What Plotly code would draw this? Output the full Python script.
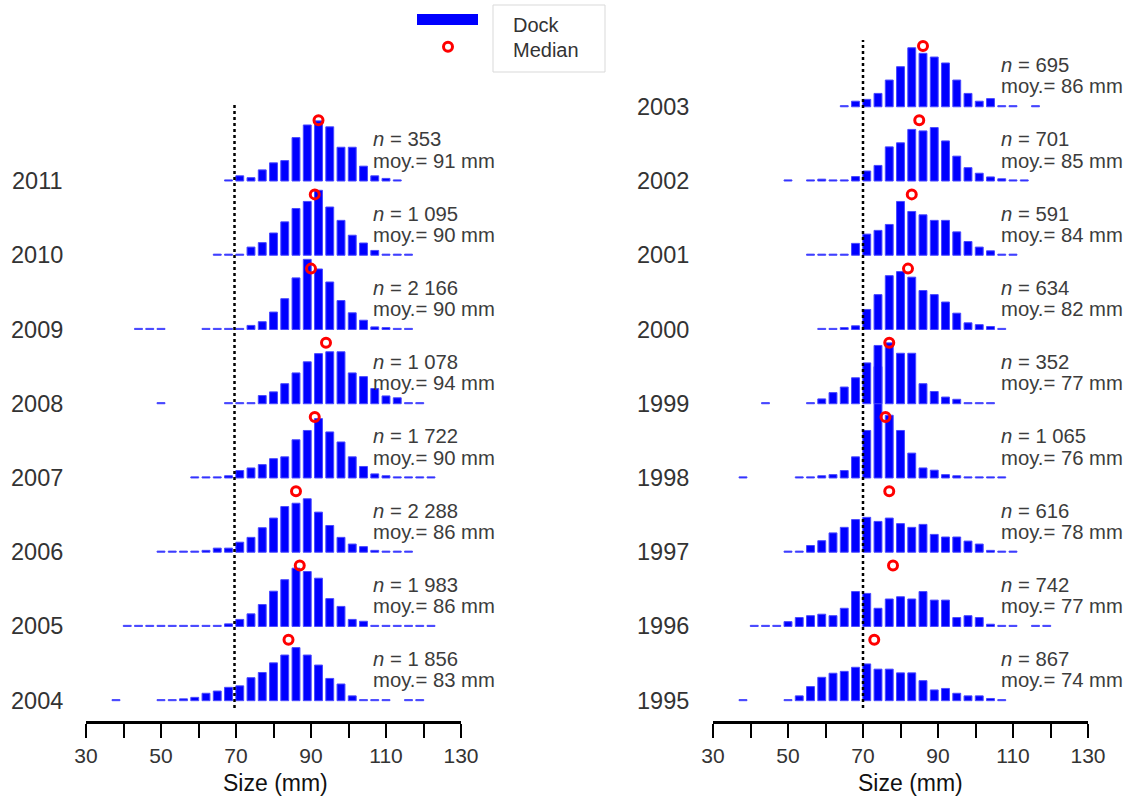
import plotly.graph_objects as go

# Size classes (mm), 3 mm wide, identified by their centre
BINS = list(range(35, 132, 3))

# Percentage of the dock sample in each size class
F2011 = [0,0,0,0,0,0,0,0,0,0,0,0.3,1.4,0.9,3.0,4.9,5.5,11.7,15.1,16.2,14.6,9.1,9.1,4.0,1.4,0.7,0.3,0,0,0,0,0,0]
F2010 = [0,0,0,0,0,0,0,0,0,0,0.3,0.3,0.3,2.2,3.4,6.0,9.0,12.6,14.5,17.5,13.0,9.4,5.4,3.3,1.3,0.3,0.3,0.3,0,0,0,0,0]
F2009 = [0,0,0,0.3,0.3,0.3,0,0,0,0.3,0.3,0.3,0.3,1.1,2.1,4.7,8.3,13.9,18.9,16.3,12.8,7.8,4.5,2.5,0.7,0.5,0.3,0.3,0,0,0,0,0]
F2008 = [0,0,0,0,0,0.3,0,0,0,0,0,0.3,0.3,0.3,2.2,3.2,5.4,8.3,11.3,13.5,14.0,14.0,8.3,7.3,4.1,2.1,1.6,0.3,0.3,0,0,0,0]
F2007 = [0,0,0,0,0,0,0,0,0.3,0.3,0.3,0.6,2.0,2.7,3.6,5.2,5.7,10.3,12.8,16.0,12.4,9.7,5.7,3.1,1.1,0.6,0.3,0.3,0.3,0.3,0,0,0]
F2006 = [0,0,0,0,0,0.3,0.3,0.3,0.3,0.5,1.1,1.1,2.7,4.0,6.6,9.2,12.3,13.2,14.4,10.8,7.2,4.0,2.2,1.5,0.5,0.3,0.3,0.3,0,0,0,0,0]
F2005 = [0,0,0.3,0.3,0.3,0.3,0.3,0.3,0.3,0.3,0.3,0.7,1.9,3.4,5.9,9.5,12.6,15.7,14.8,13.0,7.5,5.4,1.9,1.4,0.3,0.3,0.3,0.3,0.3,0.3,0,0,0]
F2004 = [0,0.3,0,0,0,0.3,0.3,0.5,0.9,2.0,2.6,3.6,4.0,6.2,7.6,10.2,12.3,14.3,12.3,9.6,6.0,4.5,1.3,0.3,0.3,0.3,0,0.3,0.3,0,0,0,0]

F2003 = [0,0,0,0,0,0,0,0,0,0,0.3,1.5,2.0,3.6,7.2,10.8,15.9,14.4,13.4,11.8,7.2,3.6,1.5,2.2,0.3,0.3,0,0.3,0,0,0,0,0]
F2002 = [0,0,0,0,0,0.3,0,0.3,0.5,0.3,0.3,1.2,2.7,4.2,9.2,10.3,13.9,13.5,14.4,10.8,6.7,3.6,2.1,1.1,0.6,0.3,0.3,0,0,0,0,0,0]
F2001 = [0,0,0,0,0,0,0,0.3,0.3,0.3,0.3,3.2,5.7,6.7,8.3,14.5,11.8,10.9,9.4,9.4,6.3,3.7,2.2,1.2,0.3,0.3,0,0,0,0,0,0,0]
F2000 = [0,0,0,0,0,0,0,0,0.3,0.3,0.5,1.0,5.4,9.4,14.5,15.6,14.1,10.5,9.4,7.4,4.4,1.8,1.3,0.8,0.3,0,0,0,0,0,0,0,0]
F1999 = [0,0,0,0.3,0,0,0,0.3,1.3,3.0,4.5,7.0,11.0,15.7,16.4,13.6,13.6,5.4,3.3,1.8,1.2,0.3,0.3,0.3,0,0,0,0,0,0,0,0,0]
F1998 = [0,0.3,0,0,0,0,0.3,0.3,0.6,0.9,2.0,5.7,12.8,30.0,16.9,12.8,6.7,2.7,2.1,0.9,0.6,0.3,0.3,0.3,0.3,0,0,0,0,0,0,0,0]
F1997 = [0,0,0,0,0,0.3,0.3,1.8,3.1,5.2,6.7,8.8,9.4,8.3,9.2,7.7,6.7,7.5,4.8,4.1,4.1,3.0,2.2,0.5,0.3,0.3,0,0,0,0,0,0,0]
F1996 = [0,0,0.3,0.3,0.3,1.3,2.4,2.9,3.3,2.9,4.9,9.4,8.9,4.9,7.4,8.0,7.4,9.4,7.1,7.1,2.4,2.9,2.4,0.6,0.3,0.3,0,0.3,0.3,0,0,0,0]
F1995 = [0,0.3,0,0,0,0.3,1.3,3.8,6.3,7.4,7.9,9.0,9.9,8.5,8.5,7.5,7.5,5.4,2.9,3.3,2.0,1.3,1.3,0.6,0.3,0,0,0,0,0,0,0,0]

LEFT_YEARS = [2004, 2005, 2006, 2007, 2008, 2009, 2010, 2011]
LEFT_FREQ = [F2004, F2005, F2006, F2007, F2008, F2009, F2010, F2011]
LEFT_N = [1856, 1983, 2288, 1722, 1078, 2166, 1095, 353]
LEFT_MEAN = [83, 86, 86, 90, 94, 90, 90, 91]
LEFT_MEDIAN = [84, 87, 86, 91, 94, 90, 91, 92]

RIGHT_YEARS = [1995, 1996, 1997, 1998, 1999, 2000, 2001, 2002, 2003]
RIGHT_FREQ = [F1995, F1996, F1997, F1998, F1999, F2000, F2001, F2002, F2003]
RIGHT_N = [867, 742, 616, 1065, 352, 634, 591, 701, 695]
RIGHT_MEAN = [74, 77, 78, 76, 77, 82, 84, 85, 86]
RIGHT_MEDIAN = [73, 78, 77, 76, 77, 82, 83, 85, 86]

X_TICKS = list(range(30, 131, 10))
X_TICKTEXT = [str(v) if v % 20 == 10 else "" for v in X_TICKS]
LEGAL_SIZE = 70

W, H = 1133, 801
STEP = 20.0          # vertical offset between successive years (in % units)
MEDIAN_LEVEL = 16.4  # height of the median symbol above each baseline
FONT = "Liberation Sans, Arial, sans-serif"
BLUE = "#0000ff"


def px_x(x):
    return x / W


def px_y(y):
    return 1 - y / H


fig = go.Figure()
annotations = []
shapes = []

panels = [
    dict(years=LEFT_YEARS, freq=LEFT_FREQ, n=LEFT_N, mean=LEFT_MEAN, med=LEFT_MEDIAN,
         xa="x", ya="y", label_x=65, text_x=371, title_x=275,
         vline_x=LEGAL_SIZE - 0.4, vline_top=160.5),
    dict(years=RIGHT_YEARS, freq=RIGHT_FREQ, n=RIGHT_N, mean=RIGHT_MEAN, med=RIGHT_MEDIAN,
         xa="x2", ya="y2", label_x=691, text_x=999, title_x=910,
         vline_x=LEGAL_SIZE, vline_top=178.0),
]

for p in panels:
    for i, year in enumerate(p["years"]):
        base = STEP * i
        xs = [b for b, v in zip(BINS, p["freq"][i]) if v > 0]
        ys = [v for v in p["freq"][i] if v > 0]
        fig.add_trace(go.Bar(
            x=xs, y=ys, base=base, width=2.1,
            marker=dict(color=BLUE, line=dict(color="#4a4aff", width=1)),
            xaxis=p["xa"], yaxis=p["ya"], hoverinfo="skip",
        ))
        annotations.append(dict(
            text=str(year), xref="paper", x=px_x(p["label_x"]), xanchor="right",
            yref=p["ya"], y=base, yanchor="middle", showarrow=False,
            font=dict(family=FONT, size=23.5, color="#333333"),
        ))
        n_txt = f"{p['n'][i]:,}".replace(",", " ")
        annotations.append(dict(
            text=f"<i>n</i> = {n_txt}", xref="paper", x=px_x(p["text_x"]), xanchor="left",
            yref=p["ya"], y=base + 11.2, yanchor="middle", showarrow=False,
            font=dict(family=FONT, size=20.3, color="#3c3c3c"),
        ))
        annotations.append(dict(
            text=f"moy.= {p['mean'][i]} mm", xref="paper", x=px_x(p["text_x"]), xanchor="left",
            yref=p["ya"], y=base + 5.5, yanchor="middle", showarrow=False,
            font=dict(family=FONT, size=20.3, color="#3c3c3c"),
        ))

    fig.add_trace(go.Scatter(
        x=p["med"], y=[STEP * i + MEDIAN_LEVEL for i in range(len(p["years"]))],
        mode="markers", xaxis=p["xa"], yaxis=p["ya"], hoverinfo="skip",
        marker=dict(symbol="circle-open", size=9, color="#ff0000",
                    line=dict(width=3, color="#ff0000")),
    ))

    shapes.append(dict(
        type="line", xref=p["xa"], yref=p["ya"],
        x0=p["vline_x"], x1=p["vline_x"], y0=-2.0, y1=p["vline_top"],
        line=dict(color="#000000", width=2.5, dash="dot"), layer="above",
    ))

    annotations.append(dict(
        text="Size (mm)", xref="paper", x=px_x(p["title_x"]), xanchor="center",
        yref="paper", y=px_y(783), yanchor="middle", showarrow=False,
        font=dict(family=FONT, size=23, color="#111111"),
    ))

# Legend: bar swatch, median symbol and a framed label box
shapes.append(dict(type="rect", xref="paper", yref="paper",
                   x0=px_x(417), x1=px_x(478), y0=px_y(25), y1=px_y(14),
                   fillcolor=BLUE, line=dict(width=0)))
shapes.append(dict(type="circle", xref="paper", yref="paper",
                   x0=px_x(443.5), x1=px_x(452.5), y0=px_y(51.2), y1=px_y(42.2),
                   line=dict(color="#ff0000", width=3)))
shapes.append(dict(type="rect", xref="paper", yref="paper",
                   x0=px_x(493), x1=px_x(605), y0=px_y(72), y1=px_y(5),
                   line=dict(color="#d9d9d9", width=1)))
for label, yy in [("Dock", 25), ("Median", 50)]:
    annotations.append(dict(
        text=label, xref="paper", x=px_x(511), xanchor="left",
        yref="paper", y=px_y(yy), yanchor="middle", showarrow=False,
        font=dict(family=FONT, size=20, color="#333333"),
    ))

y_lo = -(721 - 700.7) / (74.24 / STEP)
y_hi = 700.7 / (74.24 / STEP)

axis_common = dict(
    range=[30, 130], tickmode="array", tickvals=X_TICKS, ticktext=X_TICKTEXT,
    ticks="outside", ticklen=14, tickwidth=2, tickcolor="#000000",
    showline=True, linewidth=3, linecolor="#000000",
    showgrid=False, zeroline=False, automargin=False,
    tickfont=dict(family=FONT, size=21, color="#333333"),
)
yaxis_common = dict(range=[y_lo, y_hi], visible=False, domain=[80 / H, 1],
                    showgrid=False, zeroline=False, automargin=False)

fig.update_layout(
    width=W, height=H,
    margin=dict(l=0, r=0, t=0, b=0, autoexpand=False),
    paper_bgcolor="#ffffff", plot_bgcolor="#ffffff",
    barmode="overlay", showlegend=False,
    xaxis=dict(domain=[px_x(86), px_x(461)], anchor="y", **axis_common),
    xaxis2=dict(domain=[px_x(713), px_x(1088)], anchor="y2", **axis_common),
    yaxis=dict(anchor="x", **yaxis_common),
    yaxis2=dict(anchor="x2", **yaxis_common),
    annotations=annotations,
    shapes=shapes,
)

fig.write_html("out.html")
